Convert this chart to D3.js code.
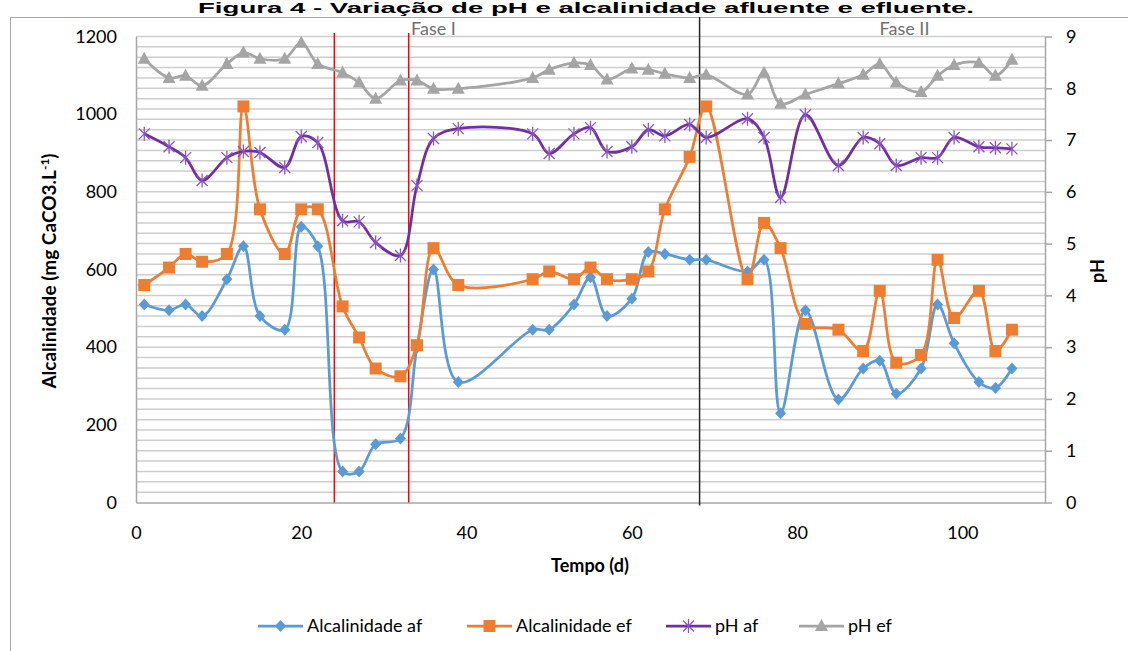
<!DOCTYPE html>
<html>
<head>
<meta charset="utf-8">
<script src="https://cdn.jsdelivr.net/npm/d3@7/dist/d3.min.js"></script>
<style>
  html, body { margin: 0; padding: 0; background: #fff; }
  svg { display: block; }
</style>
</head>
<body>
<svg id="chart" width="1128" height="651"></svg>
<script>
// Sampling days (d)
const days = [1, 4, 6, 8, 11, 13, 15, 18, 20, 22, 25, 27, 29, 32, 34, 36, 39, 48, 50, 53, 55, 57, 60, 62, 64, 67, 69, 74, 76, 78, 81, 85, 88, 90, 92, 95, 97, 99, 102, 104, 106];

// Alkalinity (mg CaCO3/L), influent and effluent
const alcAf = [510, 495, 510, 480, 575, 660, 480, 445, 710, 660, 80, 80, 150, 165, 400, 600, 310, 445, 445, 510, 580, 480, 525, 645, 640, 625, 625, 595, 625, 230, 495, 265, 345, 365, 280, 345, 510, 410, 310, 295, 345];
const alcEf = [560, 605, 640, 620, 640, 1020, 755, 640, 755, 755, 505, 425, 345, 325, 405, 655, 560, 575, 595, 575, 605, 575, 575, 595, 755, 890, 1020, 575, 720, 655, 460, 445, 390, 545, 360, 380, 625, 475, 545, 390, 445];

// pH, influent and effluent
const phAf = [7.12, 6.87, 6.66, 6.22, 6.66, 6.78, 6.76, 6.47, 7.07, 6.95, 5.44, 5.42, 5.02, 4.77, 6.12, 7.03, 7.22, 7.12, 6.74, 7.12, 7.24, 6.78, 6.87, 7.20, 7.08, 7.30, 7.05, 7.41, 7.05, 5.89, 7.49, 6.51, 7.05, 6.93, 6.51, 6.66, 6.66, 7.05, 6.87, 6.85, 6.83];
const phEf = [8.57, 8.20, 8.24, 8.05, 8.47, 8.69, 8.57, 8.57, 8.88, 8.47, 8.30, 8.11, 7.80, 8.15, 8.15, 7.99, 7.99, 8.20, 8.36, 8.49, 8.45, 8.17, 8.38, 8.36, 8.28, 8.20, 8.26, 7.88, 8.30, 7.70, 7.88, 8.09, 8.26, 8.47, 8.11, 7.93, 8.24, 8.45, 8.49, 8.24, 8.55];

// Axis ticks
const xTicks = [0, 20, 40, 60, 80, 100];
const alcTicks = [0, 200, 400, 600, 800, 1000, 1200];
const phTicks = [0, 1, 2, 3, 4, 5, 6, 7, 8, 9];

// Phase boundaries (day) and phase labels
const redBounds = [24, 33];
const phaseBound = 68.2;
const phaseLabels = [{ name: "Fase I", day: 36 }, { name: "Fase II", day: 93 }];

const svg = d3.select("#chart");
const font = "Lato, 'Open Sans', sans-serif";

const L = 136, R = 1045, T = 36.5, B = 502.5;
const x = d3.scaleLinear().domain([0, 110]).range([L, R]);
const yAlc = d3.scaleLinear().domain([0, 1200]).range([B, T]);
const yPh = d3.scaleLinear().domain([0, 9]).range([B, T]);

// Title
svg.append("text")
  .attr("x", 586).attr("y", 13)
  .attr("text-anchor", "middle")
  .attr("font-family", "'Liberation Sans', Arial, sans-serif")
  .attr("font-weight", "bold").attr("font-size", 15)
  .attr("textLength", 776).attr("lengthAdjust", "spacingAndGlyphs")
  .attr("fill", "#000")
  .text("Figura 4 - Variação de pH e alcalinidade afluente e efluente.");

// Chart frame
svg.append("path")
  .attr("d", "M10.5,651 V17.5 H1128")
  .attr("fill", "none").attr("stroke", "#a6a6a6").attr("stroke-width", 1);

// Minor horizontal gridlines every 0.2 pH
const grid = d3.range(1, 46).map(i => i * 0.2);
svg.append("g").selectAll("line").data(grid).join("line")
  .attr("x1", L).attr("x2", R)
  .attr("y1", d => yPh(d)).attr("y2", d => yPh(d))
  .attr("stroke", "#cdcdcd").attr("stroke-width", 1.5);

// Left axis
const gL = svg.append("g").attr("transform", `translate(${L},0)`)
  .call(d3.axisLeft(yAlc).tickValues(alcTicks).tickFormat(d3.format("d")).tickSize(0).tickPadding(19));
gL.select(".domain").attr("stroke", "#a6a6a6").attr("stroke-width", 1.5);
gL.selectAll("text").attr("font-family", font).attr("font-size", 18).attr("fill", "#000");

// Right axis
const gR = svg.append("g").attr("transform", `translate(${R},0)`)
  .call(d3.axisRight(yPh).tickValues(phTicks).tickFormat(d3.format("d")).tickSize(7).tickSizeOuter(0).tickPadding(14));
gR.select(".domain").attr("stroke", "#a6a6a6").attr("stroke-width", 1.5);
gR.selectAll(".tick line").attr("stroke", "#a6a6a6").attr("stroke-width", 1.5);
gR.selectAll("text").attr("font-family", font).attr("font-size", 18).attr("fill", "#000");

// Bottom axis
const gB = svg.append("g").attr("transform", `translate(0,${B})`)
  .call(d3.axisBottom(x).tickValues(xTicks).tickFormat(d3.format("d")).tickSize(0).tickPadding(24));
gB.select(".domain").attr("stroke", "#a6a6a6").attr("stroke-width", 1.5);
gB.selectAll("text").attr("font-family", font).attr("font-size", 18).attr("fill", "#000");

// Axis titles
svg.append("text")
  .attr("transform", "translate(56,271) rotate(-90)")
  .attr("text-anchor", "middle")
  .attr("font-family", font).attr("font-weight", "bold").attr("font-size", 19)
  .attr("fill", "#000")
  .call(t => {
    t.append("tspan").text("Alcalinidade  (mg CaCO3.L");
    t.append("tspan").attr("dy", -7).attr("font-size", 12).text("-1");
    t.append("tspan").attr("dy", 7).text(")");
  });
svg.append("text")
  .attr("transform", "translate(1104,271) rotate(-90)")
  .attr("text-anchor", "middle")
  .attr("font-family", font).attr("font-weight", "bold").attr("font-size", 18)
  .attr("fill", "#000").text("pH");
svg.append("text")
  .attr("x", 590).attr("y", 572)
  .attr("text-anchor", "middle")
  .attr("font-family", font).attr("font-weight", "bold").attr("font-size", 18)
  .attr("fill", "#000").text("Tempo (d)");

// Phase boundary lines
svg.append("g").selectAll("line").data(redBounds).join("line")
  .attr("x1", d => x(d)).attr("x2", d => x(d))
  .attr("y1", 33).attr("y2", B)
  .attr("stroke", "#ff0000").attr("stroke-width", 1.5);
svg.append("line")
  .attr("x1", x(phaseBound)).attr("x2", x(phaseBound))
  .attr("y1", 17).attr("y2", B + 3)
  .attr("stroke", "#262626").attr("stroke-width", 1.5);

svg.append("g").selectAll("text").data(phaseLabels).join("text")
  .attr("x", d => x(d.day)).attr("y", 35)
  .attr("text-anchor", "middle")
  .attr("font-family", font).attr("font-size", 18).attr("fill", "#6f6f6f")
  .text(d => d.name);

// Marker shapes
const markers = {
  diamond: "M0,-6 L5.5,0 L0,6 L-5.5,0 Z",
  square: "M-6,-6 H6 V6 H-6 Z",
  triangle: "M0,-7 L6.5,5 L-6.5,5 Z",
  star: "M-5.5,-5.5 L5.5,5.5 M-5.5,5.5 L5.5,-5.5 M0,-7 V7"
};

const series = [
  { name: "Alcalinidade af", values: alcAf, y: yAlc, color: "#5B9BD5", marker: "diamond" },
  { name: "Alcalinidade ef", values: alcEf, y: yAlc, color: "#ED7D31", marker: "square" },
  { name: "pH af", values: phAf, y: yPh, color: "#7030A0", marker: "star" },
  { name: "pH ef", values: phEf, y: yPh, color: "#A5A5A5", marker: "triangle" }
];

function drawMarker(sel, s) {
  if (s.marker === "star") {
    sel.attr("d", markers.star).attr("fill", "none")
      .attr("stroke", "#8a55c0").attr("stroke-width", 1.3);
  } else {
    sel.attr("d", markers[s.marker]).attr("fill", s.color).attr("stroke", "none");
  }
}

series.forEach(s => {
  const pts = days.map((d, i) => [d, s.values[i]]);
  const line = d3.line()
    .x(p => x(p[0])).y(p => s.y(p[1]))
    .curve(d3.curveCatmullRom.alpha(0.5));
  const g = svg.append("g");
  g.append("path").datum(pts)
    .attr("d", line).attr("fill", "none")
    .attr("stroke", s.color).attr("stroke-width", 2.75)
    .attr("stroke-linejoin", "round");
  g.selectAll("path.m").data(pts).join("path").attr("class", "m")
    .attr("transform", p => `translate(${x(p[0])},${s.y(p[1])})`)
    .call(sel => drawMarker(sel, s));
});

// Legend
const legendX = [258, 467, 666, 799];
const lg = svg.append("g").attr("transform", "translate(0,626)");
series.forEach((s, i) => {
  const g = lg.append("g").attr("transform", `translate(${legendX[i]},0)`);
  g.append("line").attr("x1", 0).attr("x2", 45).attr("y1", 0).attr("y2", 0)
    .attr("stroke", s.color).attr("stroke-width", 2.75);
  g.append("path").attr("transform", "translate(22.5,0)").call(sel => drawMarker(sel, s));
  g.append("text").attr("x", 49).attr("y", 6)
    .attr("font-family", font).attr("font-size", 18).attr("fill", "#000")
    .text(s.name);
});
</script>
</body>
</html>
